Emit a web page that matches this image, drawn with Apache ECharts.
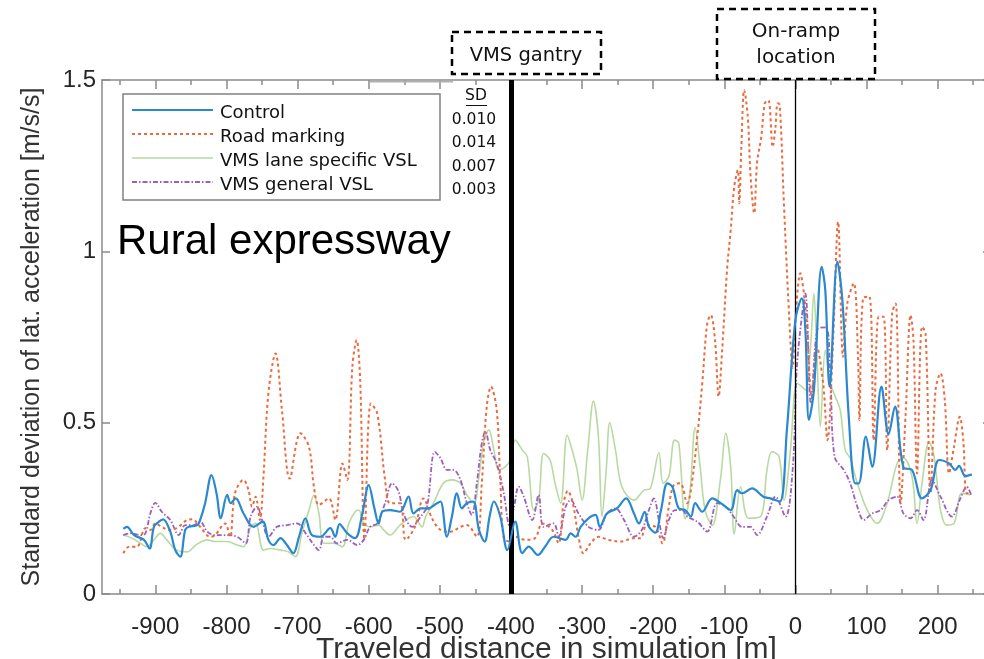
<!DOCTYPE html>
<html>
<head>
<meta charset="utf-8">
<script src="https://cdn.jsdelivr.net/npm/echarts@6/dist/echarts.min.js"></script>
<style>html,body{margin:0;padding:0;background:#fff}#c{width:984px;height:659px}</style>
</head>
<body>
<div id="c"></div>
<script>
// ---- data (distance [m], SD of lateral acceleration [m/s/s]) ----
var control = [[-945,0.19],[-940,0.196],[-930,0.172],[-916,0.158],[-908,0.133],[-902,0.196],[-895,0.211],[-889,0.218],[-879,0.182],[-872,0.128],[-865,0.109],[-858,0.187],[-853,0.196],[-841,0.201],[-837,0.216],[-830,0.265],[-821,0.347],[-814,0.294],[-808,0.221],[-799,0.289],[-794,0.265],[-787,0.279],[-776,0.235],[-762,0.196],[-749,0.211],[-741,0.158],[-734,0.143],[-724,0.163],[-715,0.143],[-706,0.119],[-698,0.167],[-689,0.221],[-680,0.172],[-668,0.167],[-654,0.192],[-647,0.167],[-641,0.204],[-630,0.177],[-619,0.163],[-609,0.235],[-600,0.318],[-592,0.25],[-586,0.206],[-581,0.24],[-570,0.245],[-556,0.24],[-544,0.284],[-537,0.235],[-527,0.25],[-516,0.25],[-504,0.265],[-499,0.27],[-490,0.167],[-483,0.226],[-476,0.294],[-469,0.25],[-462,0.265],[-453,0.27],[-445,0.187],[-437,0.153],[-430,0.226],[-424,0.27],[-415,0.226],[-405,0.128],[-394,0.211],[-384,0.119],[-375,0.138],[-362,0.114],[-352,0.138],[-340,0.167],[-323,0.158],[-316,0.177],[-309,0.167],[-302,0.196],[-291,0.221],[-281,0.231],[-275,0.196],[-265,0.235],[-251,0.25],[-238,0.279],[-227,0.235],[-220,0.206],[-212,0.24],[-206,0.196],[-197,0.179],[-189,0.245],[-180,0.323],[-173,0.313],[-164,0.25],[-155,0.245],[-147,0.226],[-141,0.265],[-131,0.24],[-117,0.279],[-105,0.265],[-91,0.245],[-82,0.303],[-75,0.294],[-61,0.308],[-45,0.284],[-35,0.279],[-22,0.27],[-12,0.479],[0,0.8],[9,0.863],[14,0.77],[19,0.508],[26,0.595],[37,0.955],[42,0.887],[48,0.605],[59,0.97],[66,0.858],[75,0.517],[84,0.323],[89,0.323],[99,0.459],[108,0.371],[121,0.605],[131,0.466],[140,0.547],[152,0.369],[164,0.362],[178,0.279],[190,0.303],[202,0.391],[216,0.381],[225,0.362],[230,0.374],[239,0.344],[248,0.349]];

var roadMarking = [[-945,0.119],[-937,0.138],[-926,0.138],[-914,0.192],[-907,0.187],[-900,0.206],[-891,0.196],[-881,0.187],[-870,0.192],[-855,0.216],[-848,0.218],[-837,0.196],[-823,0.167],[-816,0.172],[-802,0.206],[-795,0.167],[-788,0.294],[-776,0.333],[-769,0.303],[-764,0.255],[-759,0.284],[-753,0.216],[-748,0.342],[-741,0.586],[-731,0.702],[-722,0.537],[-711,0.337],[-696,0.469],[-684,0.43],[-677,0.313],[-670,0.26],[-656,0.279],[-647,0.216],[-637,0.381],[-630,0.333],[-623,0.663],[-617,0.741],[-612,0.624],[-606,0.16],[-597,0.556],[-588,0.527],[-577,0.333],[-570,0.265],[-556,0.265],[-548,0.158],[-535,0.196],[-523,0.279],[-511,0.221],[-499,0.187],[-485,0.182],[-471,0.196],[-462,0.201],[-448,0.167],[-441,0.323],[-434,0.547],[-428,0.605],[-420,0.537],[-415,0.333],[-410,0.163],[-401,0.153],[-394,0.167],[-380,0.158],[-366,0.163],[-356,0.206],[-342,0.187],[-333,0.148],[-326,0.265],[-320,0.301],[-313,0.265],[-305,0.167],[-298,0.119],[-288,0.148],[-277,0.167],[-263,0.158],[-246,0.153],[-227,0.163],[-218,0.163],[-209,0.201],[-197,0.196],[-187,0.148],[-178,0.255],[-171,0.318],[-162,0.323],[-152,0.265],[-147,0.303],[-138,0.459],[-131,0.615],[-124,0.79],[-119,0.814],[-113,0.74],[-108,0.576],[-103,0.712],[-96,0.95],[-91,1.062],[-86,1.189],[-81,1.237],[-79,1.14],[-76,1.305],[-72,1.471],[-67,1.393],[-63,1.218],[-58,1.111],[-54,1.257],[-48,1.334],[-43,1.432],[-38,1.441],[-32,1.305],[-28,1.364],[-25,1.432],[-22,1.427],[-16,1.13],[-9,0.819],[-4,0.66],[0,0.8],[7,0.936],[12,0.877],[16,0.79],[23,0.576],[30,0.722],[39,0.615],[45,0.449],[53,0.741],[60,1.086],[67,0.692],[73,0.848],[82,0.907],[88,0.692],[90,0.508],[95,0.863],[104,0.868],[110,0.449],[117,0.809],[124,0.809],[129,0.42],[136,0.819],[141,0.848],[148,0.265],[155,0.527],[162,0.814],[166,0.741],[171,0.352],[178,0.78],[183,0.761],[190,0.294],[197,0.595],[204,0.644],[210,0.566],[216,0.352],[223,0.43],[231,0.517],[236,0.449],[241,0.294],[248,0.294]];

var vmsLaneVSL = [[-945,0.172],[-933,0.163],[-921,0.148],[-912,0.138],[-902,0.158],[-893,0.177],[-884,0.158],[-870,0.128],[-855,0.123],[-843,0.143],[-827,0.158],[-816,0.153],[-799,0.153],[-785,0.143],[-776,0.138],[-766,0.196],[-759,0.206],[-748,0.128],[-738,0.133],[-724,0.128],[-713,0.123],[-703,0.109],[-694,0.177],[-684,0.245],[-677,0.289],[-670,0.235],[-663,0.148],[-649,0.148],[-637,0.138],[-628,0.206],[-619,0.24],[-614,0.245],[-607,0.206],[-598,0.196],[-586,0.201],[-579,0.187],[-570,0.172],[-556,0.201],[-537,0.226],[-525,0.196],[-520,0.226],[-509,0.265],[-495,0.323],[-483,0.333],[-471,0.323],[-462,0.289],[-452,0.265],[-445,0.342],[-438,0.449],[-431,0.479],[-424,0.42],[-417,0.362],[-408,0.371],[-401,0.391],[-394,0.449],[-384,0.42],[-377,0.401],[-368,0.245],[-361,0.274],[-354,0.41],[-345,0.391],[-338,0.323],[-330,0.265],[-321,0.464],[-314,0.42],[-307,0.362],[-300,0.274],[-292,0.42],[-284,0.563],[-277,0.459],[-272,0.226],[-266,0.362],[-261,0.5],[-253,0.42],[-244,0.313],[-227,0.274],[-213,0.303],[-204,0.308],[-192,0.413],[-186,0.323],[-178,0.342],[-170,0.449],[-164,0.44],[-155,0.22],[-148,0.303],[-141,0.486],[-134,0.371],[-127,0.245],[-117,0.2],[-105,0.342],[-98,0.469],[-91,0.371],[-86,0.175],[-77,0.313],[-66,0.221],[-49,0.226],[-40,0.362],[-33,0.415],[-23,0.401],[-16,0.274],[-7,0.42],[2,0.615],[9,0.605],[14,0.595],[21,0.712],[26,0.877],[30,0.712],[35,0.488],[42,0.712],[49,0.615],[56,0.576],[63,0.537],[70,0.42],[77,0.396],[87,0.323],[101,0.245],[115,0.206],[129,0.265],[143,0.381],[152,0.396],[164,0.342],[171,0.206],[178,0.323],[188,0.444],[195,0.401],[204,0.245],[213,0.201],[223,0.206],[234,0.294],[246,0.289]];

var vmsGeneralVSL = [[-945,0.172],[-935,0.177],[-921,0.172],[-914,0.177],[-907,0.235],[-900,0.266],[-891,0.24],[-879,0.216],[-867,0.172],[-858,0.201],[-846,0.201],[-837,0.211],[-827,0.182],[-816,0.172],[-799,0.172],[-785,0.167],[-773,0.148],[-766,0.226],[-757,0.255],[-750,0.216],[-741,0.167],[-729,0.196],[-715,0.201],[-701,0.206],[-687,0.172],[-677,0.143],[-670,0.128],[-663,0.167],[-654,0.167],[-645,0.148],[-630,0.158],[-616,0.143],[-607,0.158],[-598,0.196],[-588,0.206],[-577,0.265],[-567,0.323],[-558,0.299],[-551,0.235],[-539,0.196],[-527,0.226],[-518,0.255],[-507,0.415],[-499,0.396],[-490,0.362],[-481,0.362],[-471,0.333],[-462,0.265],[-455,0.231],[-448,0.323],[-441,0.44],[-436,0.474],[-429,0.42],[-420,0.381],[-410,0.294],[-402,0.2],[-396,0.25],[-389,0.313],[-382,0.284],[-370,0.216],[-361,0.289],[-354,0.196],[-340,0.206],[-333,0.167],[-323,0.255],[-316,0.274],[-305,0.235],[-291,0.196],[-277,0.187],[-265,0.235],[-253,0.25],[-241,0.216],[-227,0.167],[-216,0.187],[-206,0.245],[-199,0.279],[-192,0.216],[-186,0.163],[-178,0.216],[-169,0.245],[-159,0.245],[-152,0.226],[-138,0.211],[-124,0.182],[-110,0.265],[-98,0.255],[-87,0.226],[-75,0.196],[-63,0.196],[-54,0.172],[-40,0.226],[-28,0.284],[-14,0.226],[-4,0.36],[2,0.66],[9,0.809],[14,0.877],[22,0.556],[32,0.775],[43,0.778],[49,0.64],[55,0.401],[68,0.362],[77,0.323],[87,0.255],[96,0.216],[108,0.235],[120,0.245],[131,0.274],[143,0.284],[152,0.235],[162,0.221],[171,0.245],[180,0.216],[192,0.333],[204,0.284],[220,0.226],[232,0.279],[241,0.313],[247,0.289]];

var seriesNames = ['Control', 'Road marking', 'VMS lane specific VSL', 'VMS general VSL'];
var sdValues = ['0.010', '0.014', '0.007', '0.003'];
var majorTicks = [-900,-800,-700,-600,-500,-400,-300,-200,-100,0,100,200];
var minorTicks = [-950,-850,-750,-650,-550,-450,-350,-250,-150,-50,50,150,250];
var markers = [-400, 0];

var FONT = '"Liberation Sans", Arial, sans-serif';
var SANS2 = '"DejaVu Sans", Verdana, sans-serif';
var axisGray = '#8a8a8a';

// line styles, shared by the series and the legend box
var styles = [
  {color: '#2a88cf', width: 2.2, type: 'solid', dash: null},
  {color: '#ec6a3d', width: 2, type: [3, 3], dash: [3, 3]},
  {color: '#b9d9a2', width: 1.6, type: 'solid', dash: null},
  {color: '#9d5fbf', width: 1.8, type: [5, 2, 1.5, 2], dash: [5, 2, 1.5, 2]}
];
var seriesData = [control, roadMarking, vmsLaneVSL, vmsGeneralVSL];
var zOrder = [5, 4, 2, 3];

var chart = echarts.init(document.getElementById('c'), null, {renderer: 'canvas'});

function xAx(pos, ticks, len, showLine, showLabels, name) {
  return {
    type: 'value', position: pos, min: -975, max: 275, gridIndex: 0,
    name: name || '', nameLocation: 'middle', nameGap: 41, nameMoveOverlap: false,
    nameTextStyle: {fontFamily: FONT, fontSize: 30, color: '#333'},
    axisLine: {show: showLine, onZero: false, lineStyle: {color: axisGray, width: 1.5}},
    axisTick: {show: true, inside: true, length: len, customValues: ticks, lineStyle: {color: axisGray, width: 1.5}},
    axisLabel: {show: showLabels, customValues: ticks, margin: 21, fontFamily: FONT, fontSize: 24, color: '#262626'},
    splitLine: {show: false}
  };
}

var series = seriesData.map(function (d, i) {
  var s = {
    name: seriesNames[i], type: 'line', data: d, showSymbol: false, symbol: 'none', smooth: 0.35,
    lineStyle: {color: styles[i].color, width: styles[i].width, type: styles[i].type},
    itemStyle: {color: styles[i].color}, z: zOrder[i]
  };
  if (i === 0) {
    s.markLine = {
      silent: true, symbol: 'none', label: {show: false}, animation: false,
      data: [
        {xAxis: markers[0], lineStyle: {color: '#000', width: 5, type: 'solid'}},
        {xAxis: markers[1], lineStyle: {color: '#000', width: 1.3, type: 'solid'}}
      ]
    };
  }
  return s;
});

var graphic = [
  {type: 'rect', shape: {x: 123, y: 94, width: 317, height: 106}, style: {fill: '#fff', stroke: '#808080', lineWidth: 1.5}, z: 10},
  {type: 'line', shape: {x1: 370, y1: 81.5, x2: 453, y2: 81.5}, style: {stroke: '#b0b0b0', lineWidth: 2}, z: 10},
  {type: 'text', left: 117, top: 221, style: {text: 'Rural expressway', font: '42px ' + FONT, fill: '#000'}, z: 10},
  {type: 'text', x: 476, y: 96, style: {text: 'SD', font: '15.5px ' + SANS2, fill: '#111', textAlign: 'center', textVerticalAlign: 'middle'}, z: 10},
  {type: 'line', shape: {x1: 466, y1: 105.5, x2: 487, y2: 105.5}, style: {stroke: '#111', lineWidth: 1}, z: 10},
  {type: 'rect', shape: {x: 452, y: 32, width: 149, height: 42}, style: {fill: '#fff', stroke: '#000', lineWidth: 2.5, lineDash: [7, 5]}, z: 10},
  {type: 'text', x: 526, y: 56, style: {text: 'VMS gantry', font: '19.5px ' + SANS2, fill: '#111', textAlign: 'center', textVerticalAlign: 'middle'}, z: 11},
  {type: 'rect', shape: {x: 717, y: 9, width: 158, height: 70}, style: {fill: '#fff', stroke: '#000', lineWidth: 2.5, lineDash: [7, 5]}, z: 10},
  {type: 'text', x: 796, y: 32, style: {text: 'On-ramp', font: '20px ' + SANS2, fill: '#111', textAlign: 'center', textVerticalAlign: 'middle'}, z: 11},
  {type: 'text', x: 796, y: 58, style: {text: 'location', font: '20px ' + SANS2, fill: '#111', textAlign: 'center', textVerticalAlign: 'middle'}, z: 11}
];
sdValues.forEach(function (v, i) {
  graphic.push({type: 'text', x: 474, y: 120 + 23.3 * i, style: {text: v, font: '15.5px ' + SANS2, fill: '#111', textAlign: 'center', textVerticalAlign: 'middle'}, z: 10});
});
seriesNames.forEach(function (n, i) {
  var y = 113 + 24 * i;
  graphic.push({type: 'line', shape: {x1: 132, y1: y - 3, x2: 213, y2: y - 3},
    style: {stroke: styles[i].color, lineWidth: styles[i].width, lineDash: styles[i].dash}, z: 11});
  graphic.push({type: 'text', x: 220, y: y, style: {text: n, font: '18px ' + SANS2, fill: '#111', textVerticalAlign: 'middle'}, z: 11});
});

var option = {
  animation: false,
  backgroundColor: '#fff',
  grid: {left: 102, top: 80, right: -7, bottom: 65, containLabel: false, outerBoundsMode: 'none'},
  xAxis: [
    xAx('bottom', majorTicks, 9, true, true, 'Traveled distance in simulation [m]'),
    xAx('bottom', minorTicks, 5, false, false),
    xAx('top', majorTicks, 9, true, false),
    xAx('top', minorTicks, 5, false, false)
  ],
  yAxis: [
    {type: 'value', position: 'left', min: 0, max: 1.5, interval: 0.5,
     name: 'Standard deviation of lat. acceleration [m/s/s]', nameLocation: 'middle', nameGap: 57,
     nameTextStyle: {fontFamily: FONT, fontSize: 25, color: '#333'},
     axisLine: {show: true, onZero: false, lineStyle: {color: axisGray, width: 1.5}},
     axisTick: {show: true, inside: true, length: 8, lineStyle: {color: axisGray, width: 1.5}},
     axisLabel: {margin: 6, fontFamily: FONT, fontSize: 24, color: '#262626'},
     splitLine: {show: false}},
    {type: 'value', position: 'right', min: 0, max: 1.5, interval: 0.5,
     axisLine: {show: true, onZero: false, lineStyle: {color: axisGray, width: 1.5}},
     axisTick: {show: true, inside: true, length: 8, lineStyle: {color: axisGray, width: 1.5}},
     axisLabel: {show: false}, splitLine: {show: false}}
  ],
  series: series,
  graphic: graphic
};
chart.setOption(option);
</script>
</body>
</html>
